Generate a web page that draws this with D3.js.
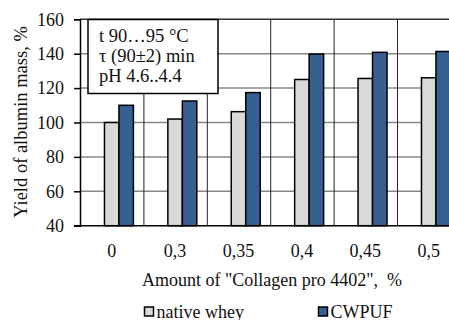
<!DOCTYPE html>
<html>
<head>
<meta charset="utf-8">
<script src="https://cdn.jsdelivr.net/npm/d3@7"></script>
<style>
  body { margin: 0; background: #fff; }
  svg { display: block; }
</style>
</head>
<body>
<svg id="chart" width="449" height="320" font-family="'Liberation Serif', 'Times New Roman', Times, serif"></svg>
<script>
// data
var categories = ['0', '0,3', '0,35', '0,4', '0,45', '0,5'];
var nativeWhey = [100, 102, 106.3, 125, 125.6, 126];
var cwpuf = [110, 112.5, 117.4, 139.8, 140.8, 141.3];
var yTicks = [40, 60, 80, 100, 120, 140, 160];
var seriesNames = ['native whey', 'CWPUF'];
var seriesColors = ['#d9d9d9', '#35608f'];
var boxLines = ['t 90\u202695 \u00B0C', '\u03C4 (90\u00B12) min', 'pH 4.6..4.4'];

var svg = d3.select('#chart');
var fs = 18;
// plot edges (px)
var plotL = 80, plotT = 19.3, plotB = 225.7, step = 63.4;

var x0 = d3.scaleBand().domain(categories).range([plotL, plotL + step * categories.length]);
// excel left a blank slot in front of the two bars
var x1 = d3.scaleBand().domain(['blank'].concat(seriesNames)).range([0, x0.bandwidth()]).paddingOuter(0.69);
var y = d3.scaleLinear().domain([40, 160]).range([plotB, plotT]);

// horizontal gridlines
svg.append('g').selectAll('line').data(yTicks.slice(1)).join('line')
  .attr('x1', plotL).attr('x2', x0.range()[1])
  .attr('y1', function(d){ return y(d); }).attr('y2', function(d){ return y(d); })
  .attr('stroke', function(d){ return d == 160 ? '#333' : '#888'; })
  .attr('stroke-width', 1.5);

// vertical gridlines between categories
svg.append('g').selectAll('line').data(categories.slice(1)).join('line')
  .attr('x1', function(d){ return x0(d) + 0.5; }).attr('x2', function(d){ return x0(d) + 0.5; })
  .attr('y1', plotT).attr('y2', plotB)
  .attr('stroke', '#222').attr('stroke-width', 1);

// bars
var rows = categories.map(function(c, i){ return {cat: c, vals: [nativeWhey[i], cwpuf[i]]}; });
var groups = svg.append('g').selectAll('g').data(rows).join('g')
  .attr('transform', function(d){ return 'translate(' + x0(d.cat) + ',0)'; });
groups.selectAll('rect').data(function(d){ return d.vals.map(function(v, j){ return {name: seriesNames[j], v: v, j: j}; }); })
  .join('rect')
  .attr('x', function(d){ return x1(d.name); })
  .attr('width', x1.bandwidth())
  .attr('y', function(d){ return y(d.v); })
  .attr('height', function(d){ return plotB - y(d.v); })
  .attr('fill', function(d){ return seriesColors[d.j]; })
  .attr('stroke', '#000').attr('stroke-width', 1.5);

// axes
var yAxis = d3.axisLeft(y).tickValues(yTicks).tickSize(6).tickPadding(10);
var gy = svg.append('g').attr('transform', 'translate(' + plotL + ',0)').call(yAxis);
gy.attr('font-family', null).attr('font-size', fs);
gy.select('.domain').attr('stroke', '#000').attr('stroke-width', 1.5);
gy.selectAll('.tick line').attr('stroke', '#000').attr('stroke-width', 1.5);
gy.selectAll('text').attr('fill', '#111');

var xAxis = d3.axisBottom(x0).tickSize(0).tickPadding(19);
var gx = svg.append('g').attr('transform', 'translate(0,' + plotB + ')').call(xAxis);
gx.attr('font-family', null).attr('font-size', fs);
gx.select('.domain').attr('stroke', '#000').attr('stroke-width', 1.5).attr('d', 'M' + (plotL - 6) + ',0H' + x0.range()[1]);
gx.selectAll('text').attr('fill', '#111');

// axis titles
svg.append('text').attr('transform', 'translate(27,122) rotate(-90)')
  .attr('text-anchor', 'middle').attr('font-size', fs + 0.5).attr('fill', '#111')
  .text('Yield of albumin mass, %');
svg.append('text').attr('x', 272).attr('y', 286)
  .attr('text-anchor', 'middle').attr('font-size', fs).attr('fill', '#111')
  .style('white-space', 'pre')
  .text('Amount of "Collagen pro 4402",  %');

// conditions box
svg.append('rect').attr('x', 88).attr('y', 19.5).attr('width', 130).attr('height', 74)
  .attr('fill', '#fff').attr('stroke', '#000').attr('stroke-width', 1.5);
svg.append('g').selectAll('text').data(boxLines).join('text')
  .attr('x', 99).attr('y', function(d, i){ return 42.3 + i * 19.7; })
  .attr('font-size', fs + 0.5).attr('fill', '#111')
  .text(function(d){ return d; });

// legend
var legX = [144.5, 318.5];
var leg = svg.append('g').selectAll('g').data(seriesNames).join('g')
  .attr('transform', function(d, i){ return 'translate(' + legX[i] + ',307)'; });
leg.append('rect').attr('width', 9).attr('height', 9)
  .attr('fill', function(d, i){ return seriesColors[i]; })
  .attr('stroke', '#000').attr('stroke-width', 1.5);
leg.append('text').attr('x', 12).attr('y', 11).attr('font-size', fs).attr('fill', '#111')
  .text(function(d){ return d; });
</script>
</body>
</html>
